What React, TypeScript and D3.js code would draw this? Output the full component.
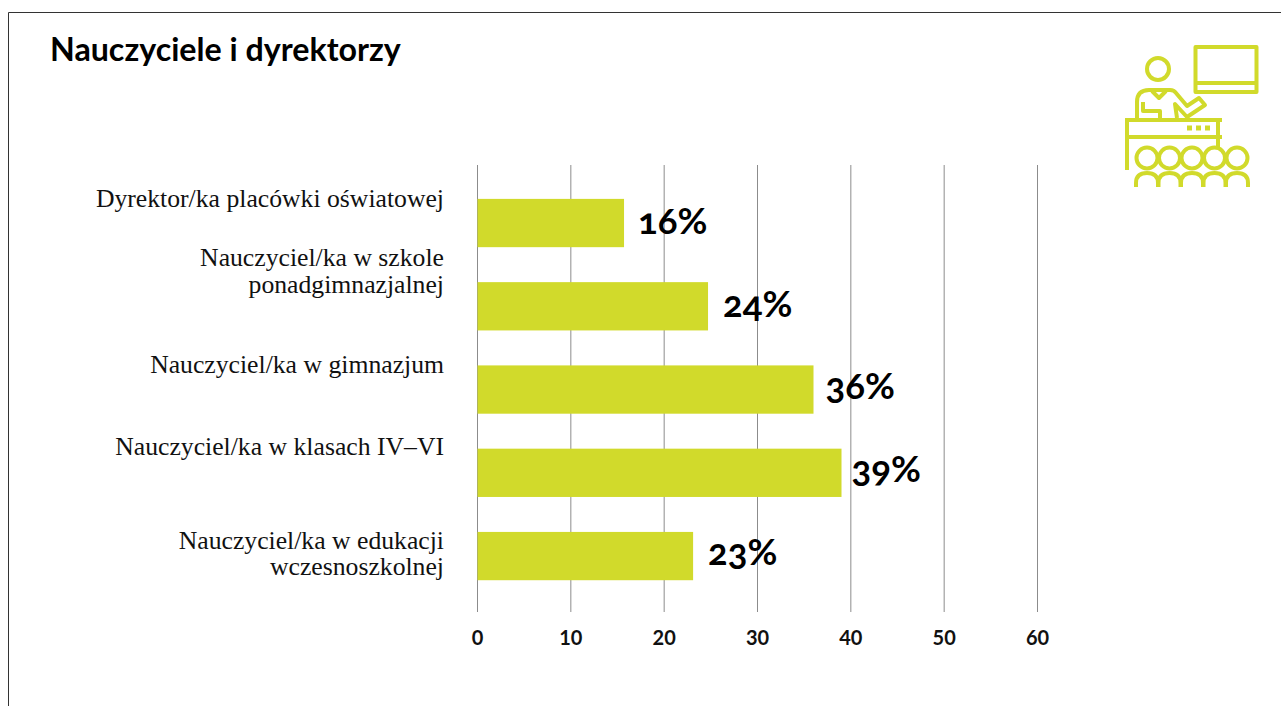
import React from "react";
import * as d3 from "d3";

const categories = [
  "Dyrektor/ka placówki oświatowej",
  "Nauczyciel/ka w szkole ponadgimnazjalnej",
  "Nauczyciel/ka w gimnazjum",
  "Nauczyciel/ka w klasach IV–VI",
  "Nauczyciel/ka w edukacji wczesnoszkolnej",
];
const categoryLines = [
  ["Dyrektor/ka placówki oświatowej"],
  ["Nauczyciel/ka w szkole", "ponadgimnazjalnej"],
  ["Nauczyciel/ka w gimnazjum"],
  ["Nauczyciel/ka w klasach IV–VI"],
  ["Nauczyciel/ka w edukacji", "wczesnoszkolnej"],
];
const values = [15.7, 24.7, 36, 39, 23.1];
const valueLabels = ["16%", "24%", "36%", "39%", "23%"];
const ticks = [0, 10, 20, 30, 40, 50, 60];
const title = "Nauczyciele i dyrektorzy";

const GREEN = "#d1da2b";
const LATO = "Lato, sans-serif";
const SERIF = "'Liberation Serif', serif";

const x = d3.scaleLinear().domain([0, 60]).range([477.5, 1037.5]);
const y = d3.scaleBand<string>().domain(categories).range([181.4, 597.7]).paddingInner(0.42).paddingOuter(0.21);

const labelBaselines = [207, 266, 373, 455, 549];
const valueLabelDx = [14, 15, 12, 10, 15];
const valueLabelDy = [11, 11, 9, 9, 9];

function Icon() {
  const heads = [1147, 1169.5, 1192, 1214.5, 1237];
  return (
    <g fill="none" stroke={GREEN} strokeWidth={4} strokeLinejoin="round">
      <rect x={1195.5} y={47} width={61} height={45} />
      <path d="M1196 83H1257" />
      <circle cx={1158} cy={69} r={11} />
      <path d="M1137 118V102Q1137 90 1149 90H1170Q1174 90 1176 93L1187 106L1199 98L1205 105L1187 117L1175 104L1177 118" />
      <path d="M1143 102V111H1160V119" />
      <path d="M1152 91L1159 98L1166 91" />
      <path d="M1125 120H1222M1125 137H1222M1127 120V170M1218 120V148" />
      {heads.map((cx) => (
        <g key={cx}>
          <circle cx={cx} cy={158} r={10.5} />
          <path d="M-11 187V183Q-11 173 0 173Q11 173 11 183V187" transform={`translate(${cx} 0)`} />
        </g>
      ))}
      <path d="M1187 128H1192M1196 128H1201M1205 128H1210" strokeWidth={5} />
    </g>
  );
}

export default function App() {
  return (
    <svg width={1281} height={706} style={{ position: "fixed", left: 0, top: 0, display: "block", background: "#fff" }}>
      <path d="M8.5 706V12.5H1281" fill="none" stroke="#333" strokeWidth={1} />
      <text x={50} y={61} fontFamily={LATO} fontWeight={700} fontSize={32.2} fill="#000">{title}</text>
      <Icon />
      {ticks.map((t) => (
        <g key={t}>
          <line x1={x(t)} x2={x(t)} y1={165} y2={612} stroke="#8c8c8c" strokeWidth={1} />
          <text x={x(t)} y={645} textAnchor="middle" fontFamily={LATO} fontWeight={700} fontSize={20} fill="#111">{t}</text>
        </g>
      ))}
      {categories.map((c, i) => (
        <rect key={c} x={x(0)} y={y(c)} width={x(values[i]) - x(0)} height={y.bandwidth()} fill={GREEN} />
      ))}
      {categories.map((c, i) => (
        <text key={c} x={x(values[i]) + valueLabelDx[i]} y={y(c)! + y.bandwidth() / 2 + valueLabelDy[i]} fontFamily={LATO} fontWeight={700} fontSize={36.5} fill="#000" style={{ fontFeatureSettings: "'onum'" }}>
          {valueLabels[i]}
        </text>
      ))}
      {categoryLines.map((lines, i) =>
        lines.map((l, j) => (
          <text key={l} x={444} y={labelBaselines[i] + j * (i === 4 ? 26 : 27)} textAnchor="end" fontFamily={SERIF} fontSize={25.7} fill="#111">{l}</text>
        ))
      )}
    </svg>
  );
}
